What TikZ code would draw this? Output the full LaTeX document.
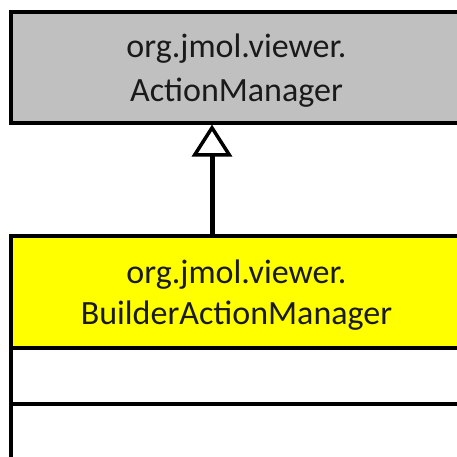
\documentclass[tikz,border=0pt]{standalone}
\usepackage{fontspec}
\setmainfont{Carlito}
\usetikzlibrary{arrows.meta}
\definecolor{classgray}{HTML}{C0C0C0}
\definecolor{classyellow}{HTML}{FFFF00}
\definecolor{labelink}{HTML}{1A1A1A}
\tikzset{
  classbox/.style={draw=black, line width=4pt, rectangle, inner sep=0pt, outer sep=2pt,
    minimum width=451pt},
  classname/.style={anchor=base, inner sep=0pt, text=labelink,
    font=\fontsize{34pt}{40pt}\selectfont},
  inherits/.style={line width=5pt,
    -{Triangle[open, length=32pt, width=40pt, line width=3.5pt]}}
}
\begin{document}
\begin{tikzpicture}[x=1pt, y=1pt]
\useasboundingbox (0,0) rectangle (457,456);
\clip (0,0) rectangle (457,456);
% superclass
\node[classbox, fill=classgray, minimum height=110.5pt] (super) at (236.5,388.75) {};
\node[classname] (superpkg) at (236.5,398) {org.jmol.viewer.};
\node[classname] (supername) at (236.5,354.3) {ActionManager};
% subclass header and its two empty compartments
\node[classbox, fill=classyellow, minimum height=112pt] (sub) at (236.5,164) {};
\node[classname] (subpkg) at (236.5,172.7) {org.jmol.viewer.};
\node[classname] (subname) at (236.5,132) {BuilderActionManager};
\node[classbox, fill=white, minimum height=55.7pt, outer sep=0pt] (attrs) at (236.5,80.15) {};
\node[classbox, fill=white, minimum height=72.3pt, outer sep=0pt] (ops) at (236.5,16.15) {};
% generalization
\coordinate (axis) at (212,0);
\draw[inherits] (sub.north -| axis) -- (super.south -| axis);
\end{tikzpicture}
\end{document}
